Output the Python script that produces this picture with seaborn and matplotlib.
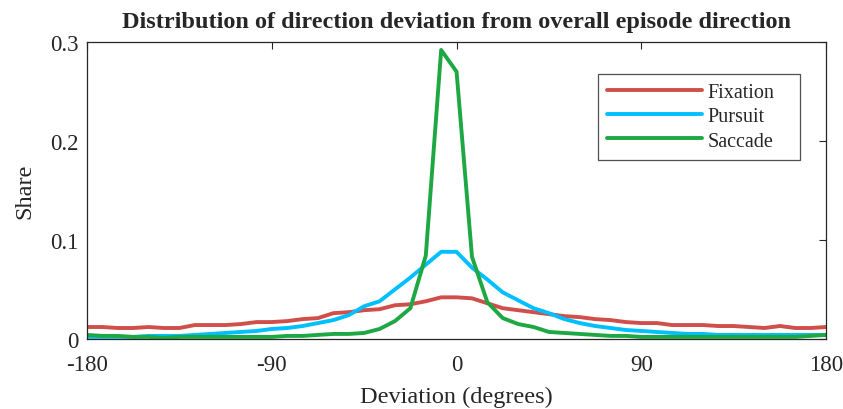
import numpy as np
import pandas as pd
import matplotlib
matplotlib.use("Agg")
import matplotlib.pyplot as plt
import seaborn as sns

deviation = [-180, -172.5, -165, -157.5, -150, -142.5, -135, -127.5, -120, -112.5,
             -105, -97.5, -90, -82.5, -75, -67.5, -60, -52.5, -45, -37.5,
             -30, -22.5, -15, -7.5, 0, 7.5, 15, 22.5, 30, 37.5,
             45, 52.5, 60, 67.5, 75, 82.5, 90, 97.5, 105, 112.5,
             120, 127.5, 135, 142.5, 150, 157.5, 165, 172.5, 180]

fixation = [0.012, 0.012, 0.011, 0.011, 0.012, 0.011, 0.011, 0.014, 0.014, 0.014,
            0.015, 0.017, 0.017, 0.018, 0.020, 0.021, 0.026, 0.027, 0.029, 0.030,
            0.034, 0.035, 0.038, 0.042, 0.042, 0.041, 0.036, 0.031, 0.029, 0.027,
            0.025, 0.023, 0.022, 0.020, 0.019, 0.017, 0.016, 0.016, 0.014, 0.014,
            0.014, 0.013, 0.013, 0.012, 0.011, 0.013, 0.011, 0.011, 0.012]

pursuit = [0.002, 0.002, 0.002, 0.002, 0.003, 0.003, 0.003, 0.004, 0.005, 0.006,
           0.007, 0.008, 0.010, 0.011, 0.013, 0.016, 0.019, 0.024, 0.033, 0.038,
           0.050, 0.062, 0.075, 0.088, 0.088, 0.072, 0.060, 0.047, 0.039, 0.031,
           0.026, 0.020, 0.016, 0.013, 0.011, 0.009, 0.008, 0.007, 0.006, 0.005,
           0.005, 0.004, 0.004, 0.004, 0.004, 0.004, 0.004, 0.004, 0.004]

saccade = [0.004, 0.003, 0.003, 0.002, 0.002, 0.001, 0.002, 0.002, 0.002, 0.002,
           0.002, 0.002, 0.002, 0.003, 0.003, 0.004, 0.005, 0.005, 0.006, 0.010,
           0.018, 0.031, 0.084, 0.292, 0.270, 0.083, 0.037, 0.021, 0.015, 0.012,
           0.007, 0.006, 0.005, 0.004, 0.003, 0.003, 0.002, 0.002, 0.002, 0.002,
           0.002, 0.002, 0.002, 0.002, 0.002, 0.002, 0.002, 0.003, 0.004]

series_names = ["Fixation", "Pursuit", "Saccade"]
colors = ["#D04F4A", "#00BFFF", "#1EA843"]
xticks = [-180, -90, 0, 90, 180]
xticklabels = ["-180", "-90", "0", "90", "180"]
yticks = [0, 0.1, 0.2, 0.3]
yticklabels = ["0", "0.1", "0.2", "0.3"]

df = pd.DataFrame({
    "Deviation": deviation * 3,
    "Share": fixation + pursuit + saccade,
    "Type": [series_names[0]] * len(deviation) + [series_names[1]] * len(deviation)
            + [series_names[2]] * len(deviation),
})

sns.set_style("white")
plt.rcParams["font.family"] = ["Liberation Serif", "DejaVu Serif"]

fig = plt.figure(figsize=(8.43, 4.10), dpi=100)
ax = fig.add_axes([0.1032, 0.171, 0.8768, 0.724])

sns.lineplot(data=df, x="Deviation", y="Share", hue="Type", palette=colors,
             hue_order=series_names, linewidth=2.8, ax=ax)

ax.set_xlim(-180, 180)
ax.set_ylim(0, 0.3)
ax.set_xticks(xticks)
ax.set_xticklabels(xticklabels)
ax.set_yticks(yticks)
ax.set_yticklabels(yticklabels)
ax.tick_params(direction="in", length=5, width=0.8, top=True, right=True,
               labelsize=16.5, colors="#262626")
ax.tick_params(axis="x", pad=11)
ax.tick_params(axis="y", pad=6)
for s in ax.spines.values():
    s.set_visible(True)
    s.set_color("#262626")
    s.set_linewidth(0.9)

ax.set_xlabel("Deviation (degrees)", fontsize=17.5, labelpad=8, color="#262626")
ax.set_ylabel("Share", fontsize=17.5, labelpad=11, color="#262626")
ax.set_title("Distribution of direction deviation from overall episode direction",
             fontsize=17.5, fontweight="bold", pad=10.5)

leg = ax.legend(loc="upper left", bbox_to_anchor=(0.6915, 0.892, 0.2735, 0.0),
                mode="expand", frameon=True,
                fontsize=14.5, fancybox=False, handlelength=4.7, borderpad=0.45,
                labelspacing=0.25, handletextpad=0.3, borderaxespad=0)
leg.get_frame().set_edgecolor("#262626")
leg.get_frame().set_linewidth(0.9)
for line in leg.get_lines():
    line.set_linewidth(2.8)

fig.savefig("out.png", dpi=100)
